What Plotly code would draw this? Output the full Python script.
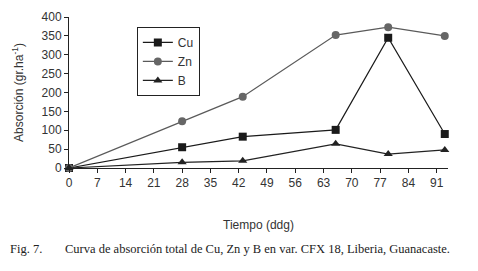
import plotly.graph_objects as go

days = [0, 28, 43, 66, 79, 93]
cu = [0, 55, 83, 101, 345, 90]
zn = [0, 124, 189, 352, 373, 350]
b = [0, 15, 19, 64, 37, 48]
x_ticks = [0, 7, 14, 21, 28, 35, 42, 49, 56, 63, 70, 77, 84, 91]
y_ticks = [0, 50, 100, 150, 200, 250, 300, 350, 400]

fig = go.Figure()
fig.add_trace(go.Scatter(x=days, y=cu, name="Cu", mode="lines+markers",
                         line=dict(color="#1a1a1a", width=1.2),
                         marker=dict(symbol="square", size=8, color="#1a1a1a"),
                         cliponaxis=False))
fig.add_trace(go.Scatter(x=days, y=zn, name="Zn", mode="lines+markers",
                         line=dict(color="#5a5a5a", width=1.2),
                         marker=dict(symbol="circle", size=8, color="#666666"),
                         cliponaxis=False))
fig.add_trace(go.Scatter(x=days, y=b, name="B", mode="lines+markers",
                         line=dict(color="#222222", width=1.2),
                         marker=dict(symbol="triangle-up", size=8, color="#222222"),
                         cliponaxis=False))

font = "Liberation Sans, Arial, sans-serif"
serif = "Liberation Serif, Times New Roman, serif"
# page body has an 8px margin, so the figure is sized 470x263 and offset by 8px
fig.update_layout(
    width=470, height=263,
    margin=dict(l=61, r=30, t=9, b=103),
    paper_bgcolor="white", plot_bgcolor="white",
    font=dict(family=font, size=12, color="#333"),
    showlegend=True,
    legend=dict(x=0.179, y=0.934, xanchor="left", yanchor="top",
                bordercolor="#222", borderwidth=1, bgcolor="white",
                font=dict(size=12), itemwidth=30),
    xaxis=dict(range=[0, 93.8], tickvals=x_ticks, ticktext=[str(t) for t in x_ticks],
               showline=True, linecolor="#222", linewidth=1, ticks="outside",
               ticklen=4, tickcolor="#222", showgrid=False, zeroline=False,
               automargin=False),
    yaxis=dict(range=[0, 400], tickvals=y_ticks,
               showline=True, linecolor="#222", linewidth=1, ticks="outside",
               ticklen=4, tickcolor="#222", showgrid=False, zeroline=False,
               automargin=False,
               title=dict(text="Absorción (gr.ha<sup>-1</sup>)", font=dict(size=12))),
)
fig.add_annotation(text="Tiempo (ddg)", xref="paper", yref="paper", x=0.5, y=-0.375,
                   xanchor="center", yanchor="middle", showarrow=False,
                   font=dict(family=font, size=12, color="#333"))
fig.add_annotation(text="Fig. 7.", xref="paper", yref="paper", x=-0.161, y=-0.535,
                   xanchor="left", yanchor="middle", showarrow=False,
                   font=dict(family=serif, size=12.5, color="#222"))
fig.add_annotation(text="Curva de absorción total de Cu, Zn y B en var. CFX 18, Liberia, Guanacaste.",
                   xref="paper", yref="paper", x=-0.016, y=-0.535,
                   xanchor="left", yanchor="middle", showarrow=False,
                   font=dict(family=serif, size=12.5, color="#222"))
fig.write_html("out.html")
